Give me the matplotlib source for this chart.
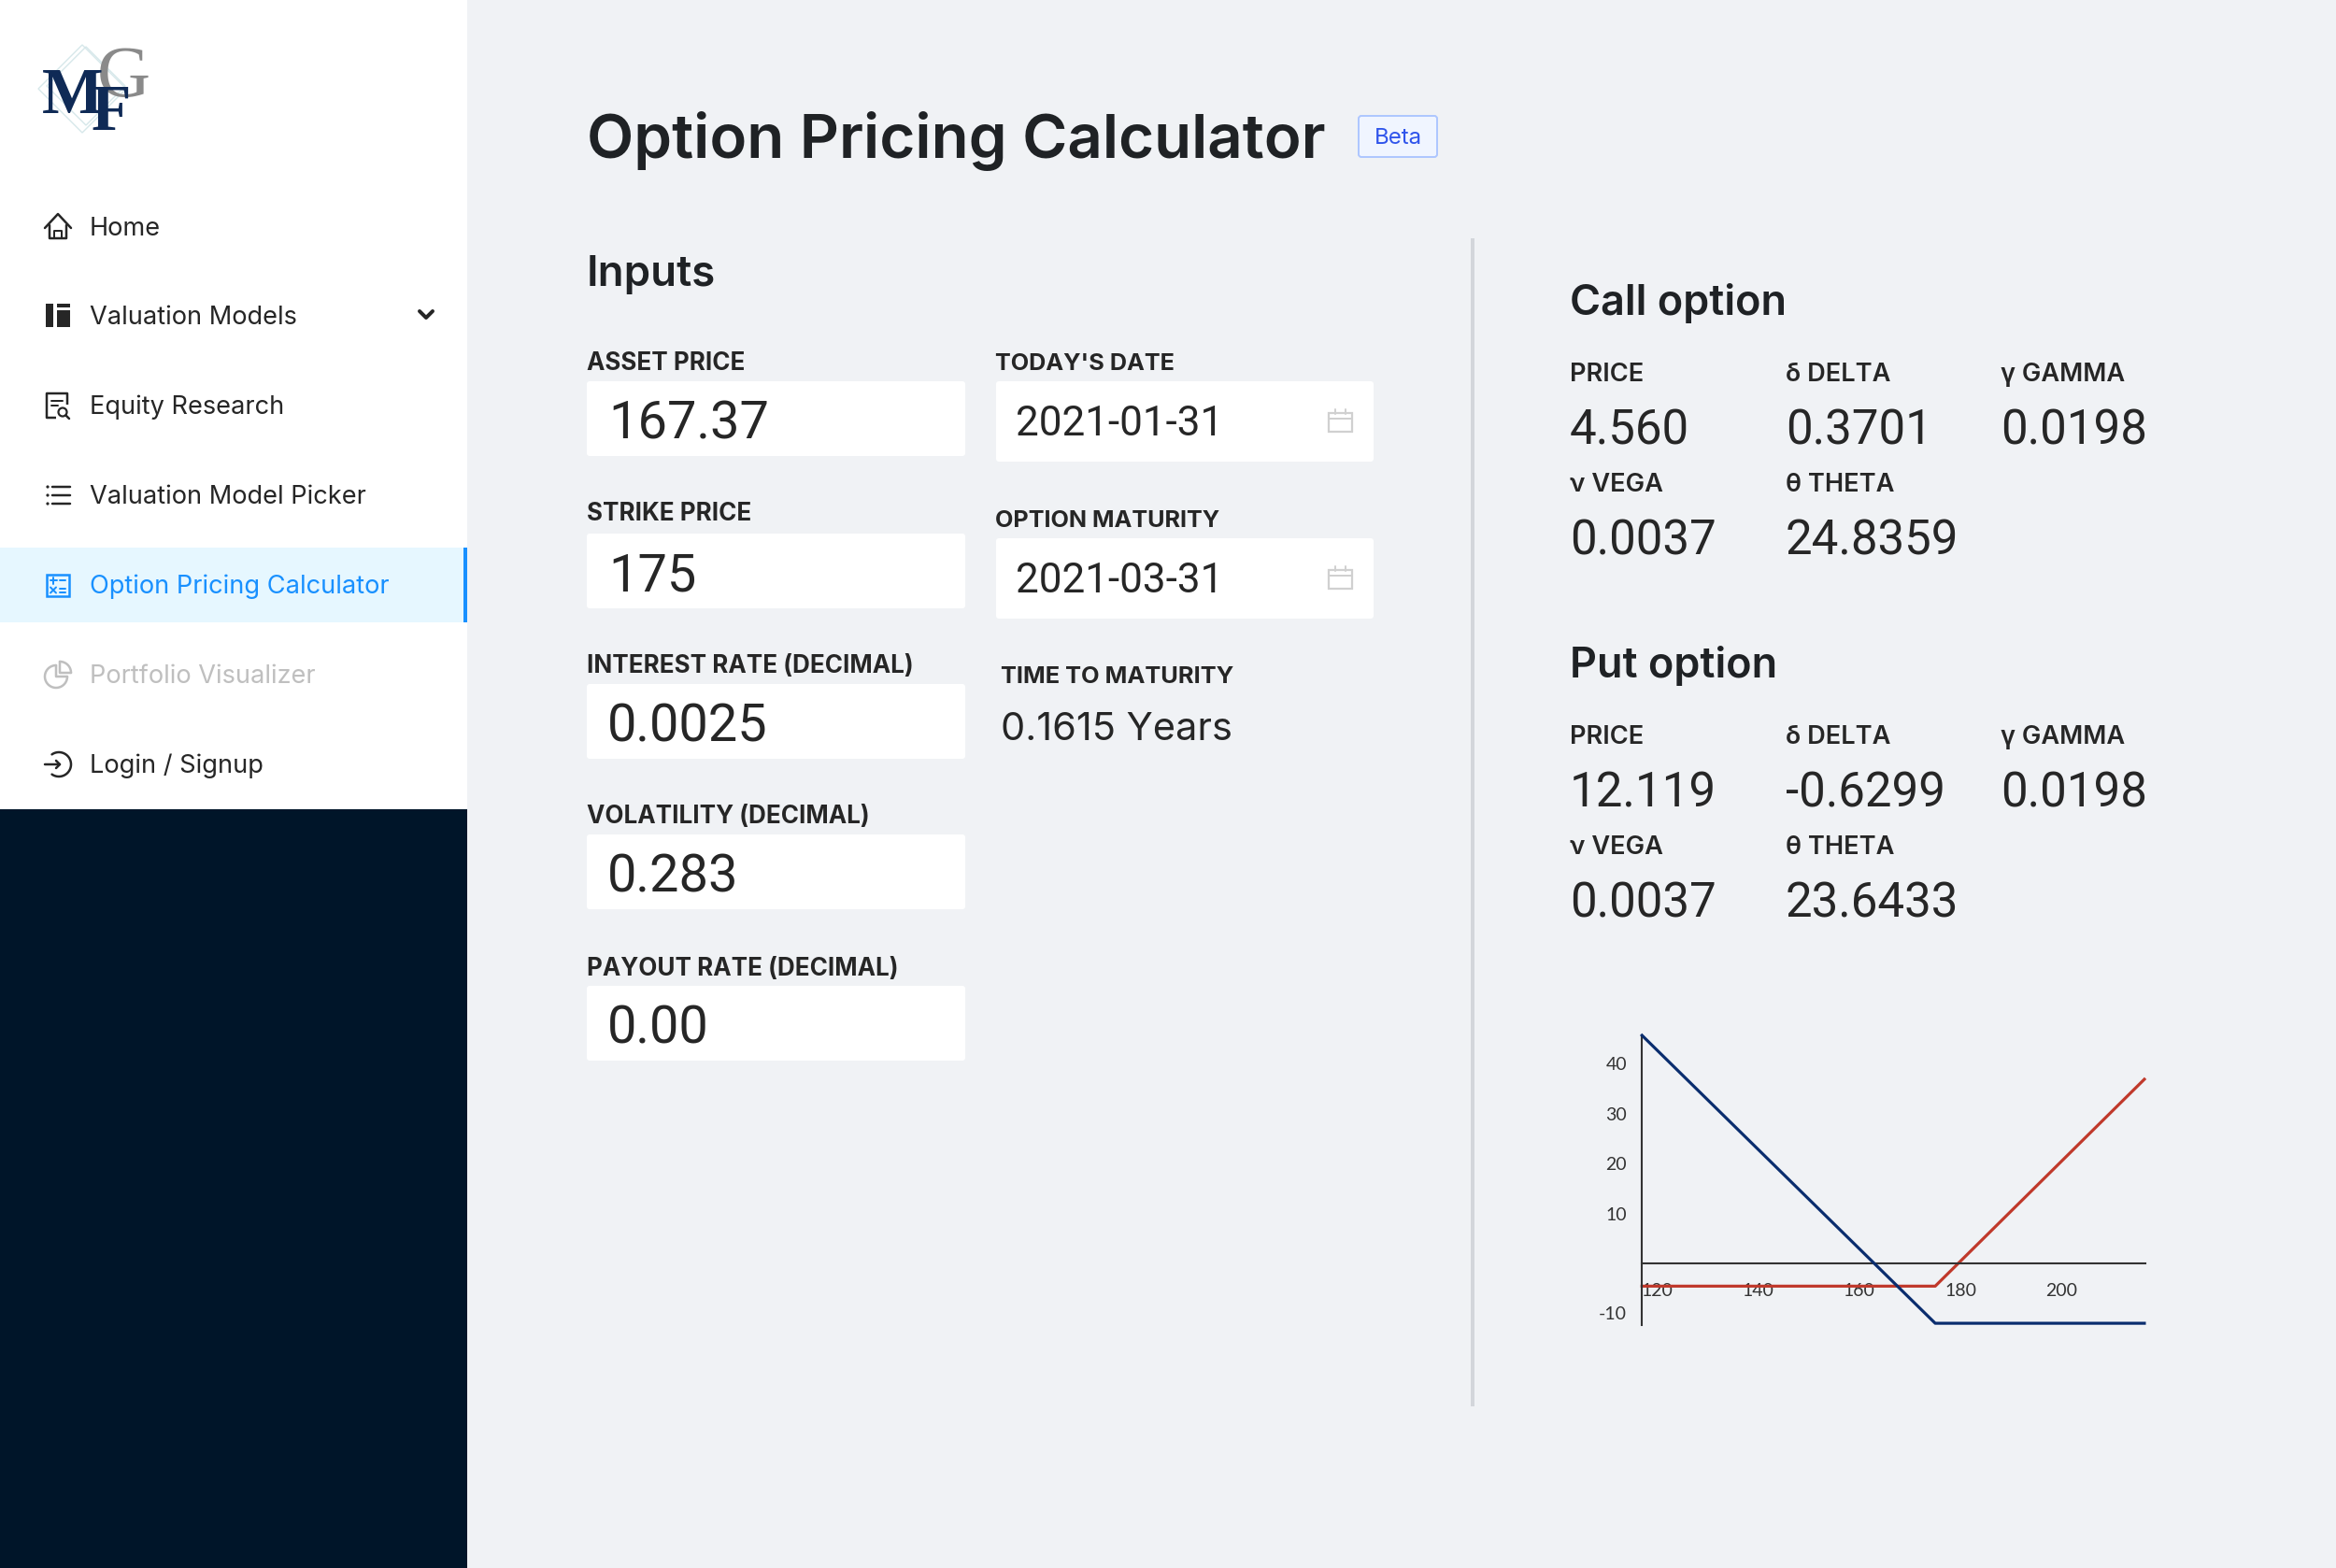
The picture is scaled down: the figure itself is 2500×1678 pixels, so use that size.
import matplotlib
matplotlib.use("Agg")
import matplotlib.pyplot as plt
from matplotlib.patches import Rectangle, FancyBboxPatch, Polygon, Circle
import numpy as np

# payoff lines
spot_levels = [117.1, 175, 216.3]
call_payoff = [-4.56, -4.56, 36.9]
put_payoff = [45.7, -12.0, -12.0]
x_ticks = [120, 140, 160, 180, 200]
y_ticks = [40, 30, 20, 10, -10]

# page text
nav_items = ["Home", "Valuation Models", "Equity Research", "Valuation Model Picker",
             "Option Pricing Calculator", "Portfolio Visualizer", "Login / Signup"]
input_labels = ["ASSET PRICE", "STRIKE PRICE", "INTEREST RATE (DECIMAL)", "VOLATILITY (DECIMAL)", "PAYOUT RATE (DECIMAL)"]
input_values = ["167.37", "175", "0.0025", "0.283", "0.00"]
date_labels = ["TODAY'S DATE", "OPTION MATURITY"]
date_values = ["2021-01-31", "2021-03-31"]
greek_labels = ["PRICE", "δ DELTA", "γ GAMMA", "ν VEGA", "θ THETA"]
call_values = ["4.560", "0.3701", "0.0198", "0.0037", "24.8359"]
put_values = ["12.119", "-0.6299", "0.0198", "0.0037", "23.6433"]

DARK = "#262626"
BLUE = "#1890ff"
GREY = "#bfbfbf"

plt.rcParams['font.family'] = ['Inter', 'DejaVu Sans']
plt.rcParams['axes.unicode_minus'] = False

fig = plt.figure(figsize=(25, 16.78), dpi=100, facecolor="#f0f2f5")
ui = fig.add_axes([0, 0, 1, 1])
ui.set_xlim(0, 2500)
ui.set_ylim(1678, 0)
ui.axis("off")


def txt(x, y, s, px, color=DARK, weight="normal", ha="left", family=None):
    # y is the middle of the capitals, px the font size in image pixels
    kw = {"family": family} if family else {}
    ui.text(x, y - 1 + 0.364 * px, s, fontsize=px * 0.72, color=color, weight=weight,
            ha=ha, va="baseline", **kw)


def line(xs, ys, color=DARK, w=2.5, cap="round"):
    ui.plot(xs, ys, color=color, lw=w * 0.72, solid_capstyle=cap, solid_joinstyle="round")


def arc(cx, cy, r, a0, a1, color=DARK, w=2.5):
    t = np.radians(np.linspace(a0, a1, 60))
    line(cx + r * np.cos(t), cy - r * np.sin(t), color, w)


def box(x0, y0, x1, y1):
    ui.add_patch(FancyBboxPatch((x0 + 3, y0 + 3), x1 - x0 - 6, y1 - y0 - 6,
                                boxstyle="round,pad=3,rounding_size=3", fc="white", ec="none"))


def calendar(y0):
    c = "#d0d0d0"
    ui.add_patch(Rectangle((1422, y0 + 4), 25, 20, fc="none", ec=c, lw=1.6))
    line([1422, 1447], [y0 + 10, y0 + 10], c, 2)
    line([1429, 1429], [y0, y0 + 5], c, 2)
    line([1440, 1440], [y0, y0 + 5], c, 2)


# sidebar
ui.add_patch(Rectangle((0, 0), 500, 866, fc="white", ec="none"))
ui.add_patch(Rectangle((0, 866), 500, 812, fc="#001529", ec="none"))
ui.add_patch(Rectangle((0, 586), 500, 80, fc="#e6f7ff", ec="none"))
ui.add_patch(Rectangle((496, 586), 4, 80, fc=BLUE, ec="none"))

# logo
for cx, cy, r in [(88, 95, 47), (92, 92, 42)]:
    ui.add_patch(Polygon([(cx - r, cy), (cx, cy - r), (cx + r, cy), (cx, cy + r)], closed=True,
                         fc="none", ec="#d6e7ea", lw=1))
ui.text(132, 103, "G", fontsize=57, color="#8a8a8a", family="Liberation Serif", ha="center", va="baseline")
ui.text(78, 121, "M", fontsize=50, color="#0f2a56", family="Liberation Serif", weight="bold", ha="center", va="baseline")
ui.text(119, 139, "F", fontsize=50, color="#0f2a56", family="Liberation Serif", weight="bold", ha="center", va="baseline")

nav_y = [243, 338, 434, 530, 626, 722, 818]
nav_colors = [DARK, DARK, DARK, DARK, BLUE, GREY, DARK]
for name, y, c in zip(nav_items, nav_y, nav_colors):
    txt(96, y, name, 27.2, color=c)

# home
line([48, 62, 76], [244, 229, 244])
line([53, 53, 71, 71], [241, 255, 255, 241])
line([58, 58, 66, 66], [255, 247, 247, 255], w=2)
# valuation models
ui.add_patch(Rectangle((49, 325), 8, 25, fc=DARK, ec="none"))
ui.add_patch(Rectangle((61, 325), 14, 3.5, fc=DARK, ec="none"))
ui.add_patch(Rectangle((61, 332), 14, 18, fc=DARK, ec="none"))
line([449, 456, 463], [333, 340, 333], w=4)
# equity research
line([60, 50, 50, 72, 72], [447, 447, 421, 421, 433], cap="butt")
line([55, 67], [429, 429], w=2)
line([55, 62], [434, 434], w=2)
ui.add_patch(Circle((67, 441), 4.5, fc="none", ec=DARK, lw=1.6))
line([70.5, 74], [444.5, 448])
# model picker
for y in [521, 530, 539]:
    line([56, 75], [y, y])
    ui.add_patch(Circle((51, y), 1.6, fc=DARK, ec="none"))
# calculator
ui.add_patch(Rectangle((50, 615), 24, 23, fc="none", ec=BLUE, lw=1.8))
line([53.5, 60.5], [621, 621], BLUE, 2)
line([57, 57], [617.5, 624.5], BLUE, 2)
line([64, 70], [621, 621], BLUE, 2)
line([54, 60], [628.5, 634.5], BLUE, 2)
line([54, 60], [634.5, 628.5], BLUE, 2)
line([64, 70], [629.5, 629.5], BLUE, 2)
line([64, 70], [633.5, 633.5], BLUE, 2)
# portfolio
arc(60, 724, 12, 90, 360, GREY)
line([60, 60, 72], [712, 724, 724], GREY)
arc(64, 720, 12, 0, 90, GREY)
line([64, 64, 76], [708, 720, 720], GREY)
# login
arc(63, 818, 13, -125, 125)
line([48, 64], [818, 818])
line([60, 64, 60], [814, 818, 822])

# title
txt(628, 146, "Option Pricing Calculator", 65.5, weight="semibold", color="#1f2225")
ui.add_patch(FancyBboxPatch((1456, 126), 80, 40, boxstyle="round,pad=2,rounding_size=3",
                            fc="#f0f5ff", ec="#adc6ff", lw=1.4))
txt(1496, 146, "Beta", 24, color="#2f54eb", ha="center")

# inputs
txt(628, 290, "Inputs", 45.5, weight="semibold", color="#1f2225")
label_y = [387, 548, 711, 872, 1035]
box_tops = [408, 571, 732, 893, 1055]
value_x = [651, 651, 650, 650, 650]
for lab, val, ly, top, vx in zip(input_labels, input_values, label_y, box_tops, value_x):
    txt(628, ly + 1, lab, 26, weight="bold")
    box(628, top, 1033, top + 80)
    txt(vx, top + 42, val, 56, family="Roboto")

date_label_y = [387, 555]
date_tops = [408, 576]
for lab, val, ly, top in zip(date_labels, date_values, date_label_y, date_tops):
    txt(1065, ly + 1, lab, 25.3, weight="bold")
    box(1066, top, 1470, top + 86)
    txt(1087, top + 43, val, 44, family="Roboto")
    calendar(top + 30)

txt(1071, 723, "TIME TO MATURITY", 25.5, weight="bold")
txt(1071, 778, "0.1615 Years", 41.5)

# divider
ui.add_patch(Rectangle((1574, 255), 3.5, 1250, fc="#d3d6db", ec="none"))

# results
col_x = [1680, 1911, 2141, 1680, 1911]
for title, vals, y0 in [("Call option", call_values, 322), ("Put option", put_values, 710)]:
    txt(1680, y0, title, 45, weight="semibold", color="#1f2225")
    for i, (lab, val) in enumerate(zip(greek_labels, vals)):
        row = 0 if i < 3 else 118
        txt(col_x[i], y0 + 77 + row, lab, 27.2, weight="semibold")
        txt(col_x[i], y0 + 136 + row, val, 51, family="Roboto")

# payoff chart
W, H = 2500.0, 1678.0
ax = fig.add_axes([1757 / W, 1 - 1417.7 / H, (2296 - 1757) / W, (1417.7 - 1108) / H])
ax.patch.set_alpha(0)
ax.plot(spot_levels, put_payoff, color="#0a2d6e", lw=2.3, solid_joinstyle="round", clip_on=False, zorder=3)
ax.plot(spot_levels, call_payoff, color="#c0392b", lw=2.3, solid_joinstyle="round", clip_on=False, zorder=2)
ax.set_xlim(117.05, 216.5)
ax.set_ylim(-12.3, 45.7)
ax.spines["top"].set_visible(False)
ax.spines["right"].set_visible(False)
ax.spines["bottom"].set_position(("data", 0))
for s in ["left", "bottom"]:
    ax.spines[s].set_color("#333333")
    ax.spines[s].set_linewidth(1.5)
ax.set_xticks(x_ticks)
ax.set_yticks(y_ticks)
ax.tick_params(axis="x", length=0, pad=15, labelsize=14, labelcolor="#333333")
ax.tick_params(axis="y", length=0, pad=11.5, labelsize=14, labelcolor="#333333")
for t in ax.get_xticklabels() + ax.get_yticklabels():
    t.set_family("Lato")

fig.savefig("out.png", dpi=100, facecolor=fig.get_facecolor())
